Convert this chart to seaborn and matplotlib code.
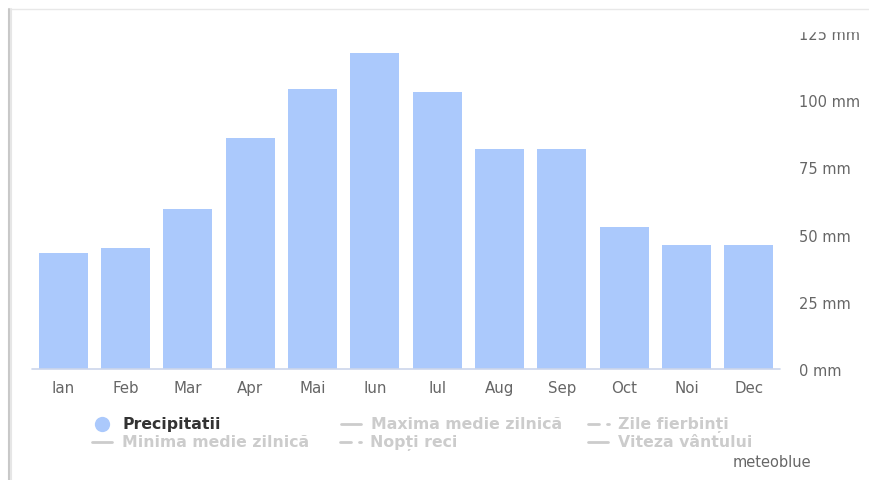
import matplotlib
matplotlib.use("Agg")
import matplotlib.pyplot as plt
from matplotlib.lines import Line2D
from matplotlib.patches import Rectangle
import seaborn as sns
import pandas as pd

# Monthly precipitation (mm)
months = ["Ian", "Feb", "Mar", "Apr", "Mai", "Iun", "Iul", "Aug", "Sep", "Oct", "Noi", "Dec"]
precip = [43, 45, 59.5, 86, 104, 117.5, 103, 82, 82, 53, 46, 46]
y_ticks = [0, 25, 50, 75, 100, 125]

legend_active = "Precipitatii"
legend_rows = [
    [("solid", "Maxima medie zilnică"), ("dashdot", "Zile fierbinți")],
    [("solid", "Minima medie zilnică"), ("dashdot", "Nopți reci"), ("solid", "Viteza vântului")],
]
credit = "meteoblue"

BAR = "#abc9fc"
GRID = "#ccd6eb"
LABEL = "#666666"
MUTED = "#cccccc"

sns.set_theme(style="white")
plt.rcParams["font.family"] = ["DejaVu Sans"]

W, H = 870, 481
fig = plt.figure(figsize=(W / 100, H / 100), dpi=100)
fig.patch.set_facecolor("white")


def fx(px):
    return px / W


def fy(py):
    return 1 - py / H


ax = fig.add_axes([fx(32), fy(370), fx(780) - fx(32), fy(34) - fy(370)])
df = pd.DataFrame({"month": months, "precip": precip})
sns.barplot(data=df, x="month", y="precip", color=BAR, saturation=1,
            width=0.79, ax=ax, edgecolor="none")
ax.set_xlim(-0.5, 11.5)
ax.set_ylim(0, 125)
ax.set_xlabel("")
ax.set_ylabel("")
for s in ax.spines.values():
    s.set_visible(False)
ax.axhline(0, color=GRID, lw=1.2, clip_on=False, zorder=3)

ax.yaxis.tick_right()
ax.set_yticks(y_ticks)
ax.set_yticklabels([f"{v} mm" for v in y_ticks])
ax.tick_params(axis="y", length=0, pad=14, labelsize=10.5, labelcolor=LABEL)
ax.tick_params(axis="x", length=0, pad=8, labelsize=10.8, labelcolor=LABEL)

# legend
fs = 11.3
fig.add_artist(Line2D([fx(102)], [fy(425)], transform=fig.transFigure,
                      marker="o", markersize=11, color=BAR, mec="none", lw=0))
fig.text(fx(122), fy(425), legend_active, fontsize=fs, fontweight="bold",
         color="#333333", va="center", ha="left")

positions = [
    [(341, 425), (588, 425)],
    [(92, 443), (340, 443), (588, 443)],
]
for row, pos in zip(legend_rows, positions):
    for (style, label), (x0, yy) in zip(row, pos):
        if style == "solid":
            fig.add_artist(Line2D([fx(x0), fx(x0 + 20)], [fy(yy), fy(yy)],
                                  transform=fig.transFigure, color=MUTED, lw=2))
        else:
            fig.add_artist(Line2D([fx(x0), fx(x0 + 11)], [fy(yy), fy(yy)],
                                  transform=fig.transFigure, color=MUTED, lw=2))
            fig.add_artist(Line2D([fx(x0 + 19), fx(x0 + 21)], [fy(yy), fy(yy)],
                                  transform=fig.transFigure, color=MUTED, lw=2))
        fig.text(fx(x0 + 30), fy(yy), label, fontsize=fs, fontweight="bold",
                 color=MUTED, va="center", ha="left")

fig.text(fx(811), fy(463), credit, fontsize=10.5, color="#666666",
         va="center", ha="right")

# frame: the top strip hides the upper part of the view
fig.add_artist(Rectangle((0, fy(31.5)), 1, 1 - fy(31.5), transform=fig.transFigure,
                         color="white", zorder=10))
fig.add_artist(Line2D([fx(10), 1], [fy(10), fy(10)], transform=fig.transFigure,
                      color="#e8e8e8", lw=1, zorder=11))
fig.add_artist(Line2D([fx(9), fx(9)], [fy(10), 0], transform=fig.transFigure,
                      color="#c8c8c8", lw=1.5, zorder=11))
fig.add_artist(Line2D([fx(11), fx(11)], [fy(10), 0], transform=fig.transFigure,
                      color="#e6e6e6", lw=1.5, zorder=11))

fig.savefig("out.png", dpi=100)
